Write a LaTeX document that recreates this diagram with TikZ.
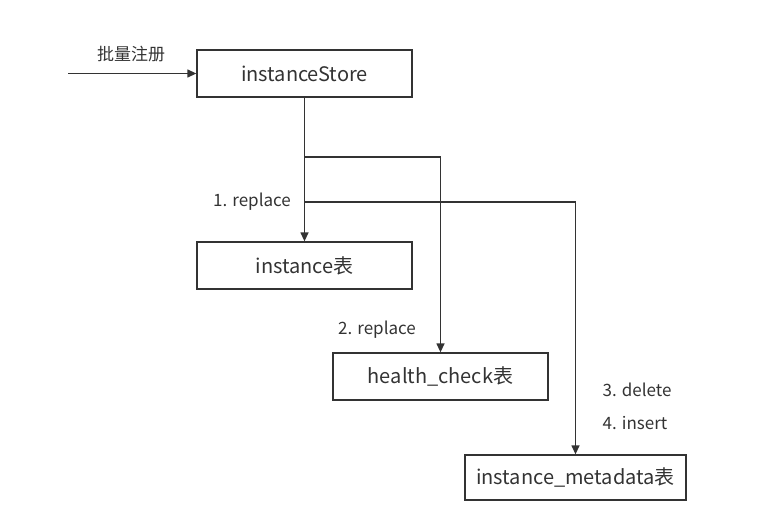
\documentclass[tikz,border=0pt]{standalone}
\usepackage{fontspec}
\setmainfont{Noto Sans CJK SC}
\usetikzlibrary{arrows.meta}

\definecolor{inkgray}{RGB}{51,51,51}

\tikzset{
  tablebox/.style={draw=inkgray, line width=1.3pt, text=inkgray, inner sep=0pt,
    font=\fontsize{20}{24}\selectfont},
  steplabel/.style={text=inkgray, inner sep=0pt, font=\fontsize{17}{20}\selectfont},
  flow/.style={draw=inkgray, line width=1.3pt, -{Triangle[length=9pt,width=8pt]}},
  wire/.style={draw=inkgray, line width=1.3pt}
}

\begin{document}
\begin{tikzpicture}[x=1pt,y=1pt,yscale=-1,xscale=1]
\useasboundingbox (0,0) rectangle (768,524);

% tables
\node [tablebox, minimum width=215pt, minimum height=47pt] (store) at (304.5,73.5) {instanceStore};
\node [tablebox, minimum width=215pt, minimum height=47pt] (inst) at (304.5,265.5) {instance表};
\node [tablebox, minimum width=215pt, minimum height=47pt] (hc) at (440.5,376.5) {health\_check表};
\node [tablebox, minimum width=221pt, minimum height=45pt] (meta) at (575.5,477.5) {instance\_metadata表};

% labels
\node [steplabel] (reg) at (131,54) {批量注册};
\node [steplabel] (op1) at (252,202) {1. replace};
\node [steplabel] (op2) at (377,330) {2. replace};
\node [steplabel] (op3) at (637,390) {3. delete};
\node [steplabel] (op4) at (635,423) {4. insert};

% connectors
\coordinate (src) at (68,73.5);
\coordinate (fork2) at (304.5,157);
\coordinate (fork3) at (304.5,202);
\draw [flow] (src) -- (store.west);
\draw [flow] (store.south) -- (inst.north);
\draw [flow] (fork2) -| (hc.north);
\draw [flow] (fork3) -| (meta.north);

\end{tikzpicture}
\end{document}
